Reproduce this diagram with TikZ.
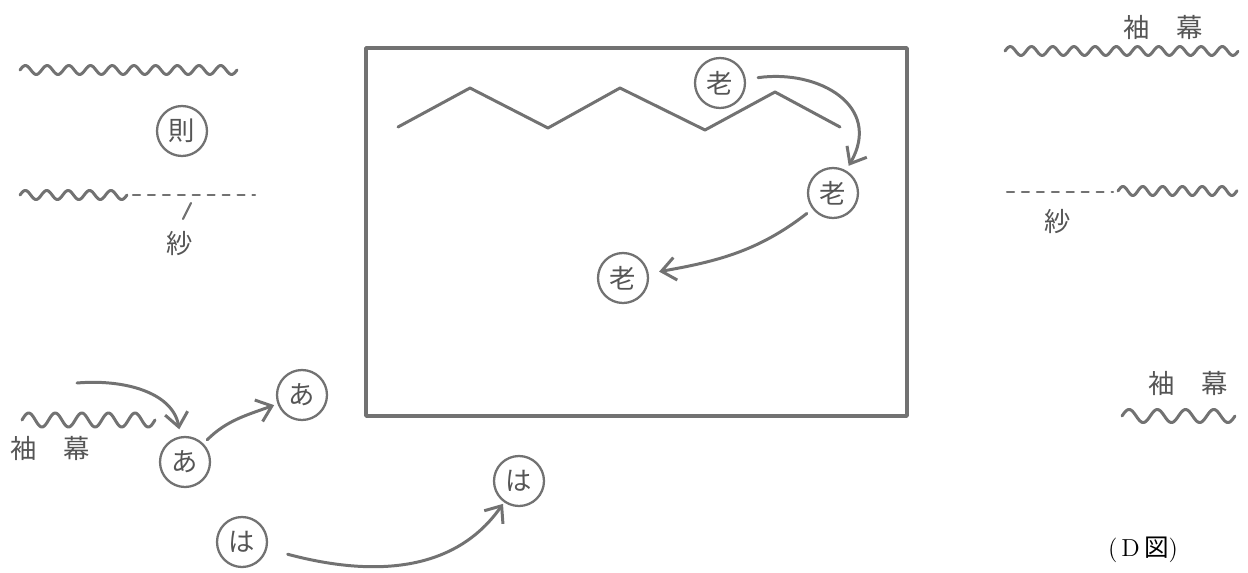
\documentclass[tikz,border=0pt]{standalone}
\usepackage{fontspec}
\newfontfamily\jpfont{Noto Sans CJK JP}
\usepackage{tikz}
\usetikzlibrary{arrows.meta}
\definecolor{pencil}{HTML}{727272}
\definecolor{pencilink}{HTML}{555555}
% curtain edge: from x #1 to x #2 at height #3, wave length #4, half height #5
\newcommand\curtainline[5]{%
  \draw[pen] plot[domain=#1:#2,samples=140,smooth] (\x,{#3-#5*sin((\x-#1)/#4*360)});}

\begin{document}
\begin{tikzpicture}[x=0.02cm,y=-0.02cm,
  pen/.style={pencil,line width=1.7pt,line cap=round,line join=round},
  gauze/.style={pen,line width=1.2pt,dash pattern=on 4pt off 4.5pt},
  actor/.style={circle,draw=pencil,line width=1.3pt,minimum size=1cm,inner sep=0pt,
    font=\jpfont\fontsize{15}{15}\selectfont,text=pencilink},
  hand/.style={font=\jpfont\fontsize{15}{15}\selectfont,text=pencilink},
  move/.style={pen,-{Straight Barb[length=8pt,width=13pt]}}]
  \useasboundingbox (0,0) rectangle (1248,572);

  % stage frame and backdrop hills
  \draw[pen,line width=2pt] (366,48) rectangle (907,416);
  \draw[pen] (398,127) -- (470,88) -- (548,128) -- (620,88) -- (705,130) -- (775,92) -- (840,127);

  % left wing
  \curtainline{20}{237}{70}{21.7}{4.5}
  \node[actor] (nori) at (182,131) {則};
  \curtainline{20}{127}{195}{21.4}{4.5}
  \draw[gauze] (133,195) -- (255,195);
  \node[hand] (shaL) at (180,244) {紗};
  \coordinate (tickTop) at (191,203);
  \coordinate (tickFoot) at (183,219);
  \draw[pen,line width=1.2pt] (tickFoot) -- (tickTop);

  % right wing
  \node[hand] (sodeR1) at (1163,27) {袖\hspace{1em}幕};
  \curtainline{1005}{1238}{51}{21.2}{4.5}
  \draw[gauze] (1007,192) -- (1113,192);
  \curtainline{1118}{1237}{191}{19.8}{4.5}
  \node[hand] (shaR) at (1058,222) {紗};
  \node[hand] (sodeR2) at (1188,383) {袖\hspace{1em}幕};
  \curtainline{1122}{1235}{416}{28.25}{6.5}

  % lower left
  \curtainline{22}{155}{420}{26.6}{7}
  \node[hand] (sodeL) at (50,448) {袖\hspace{1em}幕};
  \coordinate (entryA) at (77,383);
  \node[actor] (aLow) at (185,462) {あ};
  \node[actor] (aUp) at (302,395) {あ};
  \node[actor] (haLow) at (242,542) {は};
  \node[actor] (haUp) at (519,481) {は};

  % the old man's moves
  \node[actor] (rou1) at (720,83) {老};
  \node[actor] (rou2) at (833,193) {老};
  \node[actor] (rou3) at (623,278) {老};
  \draw[move,shorten <=7pt,shorten >=3pt] (rou1) to[out=8,in=60,looseness=1.4] (rou2);
  \draw[move,shorten <=4pt,shorten >=6pt] (rou2) to[out=218,in=10] (rou3);

  % entrances
  \draw[move,shorten >=4pt] (entryA) to[out=5,in=100] (aLow);
  \draw[move,shorten <=3pt,shorten >=2pt] (aLow) to[out=45,in=200] (aUp);
  \draw[move,shorten <=12pt,shorten >=1pt] (haLow) to[out=-15,in=235] (haUp);

  \node (caption) at (1143,550) {\fontsize{14}{14}\selectfont(\,D\,{\jpfont 図})};
\end{tikzpicture}
\end{document}
